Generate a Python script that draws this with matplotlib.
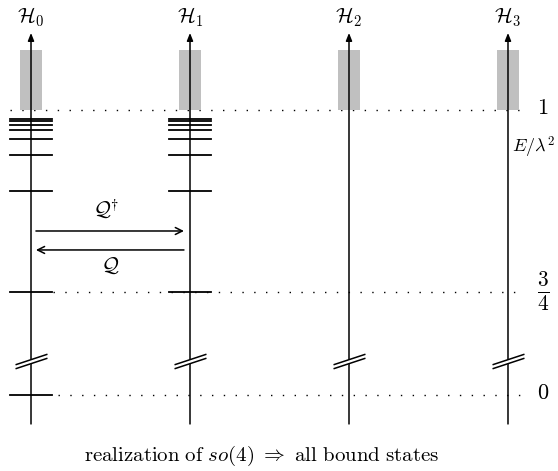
import numpy as np
import matplotlib
matplotlib.use("Agg")
import matplotlib.pyplot as plt
from matplotlib.patches import Rectangle
from matplotlib.path import Path

plt.rcParams['mathtext.fontset'] = 'cm'
plt.rcParams['font.family'] = ['Liberation Serif', 'DejaVu Serif']

# ---- data ----
spaces = [r'$\mathcal{H}_0$', r'$\mathcal{H}_1$', r'$\mathcal{H}_2$', r'$\mathcal{H}_3$']
# bound-state energies E/lambda^2 in each space
levels_H0 = [0.0, 0.75, 0.889, 0.9375, 0.96, 0.972, 0.9796, 0.9844, 0.9877]
levels_H1 = [0.75, 0.889, 0.9375, 0.96, 0.972, 0.9796, 0.9844, 0.9877]
levels = [levels_H0, levels_H1, [], []]
continuum = [1.0, 1.083]          # continuum band start / shown top
ref_lines = [1.0, 0.75, 0.0]       # dotted reference energies
ref_labels = ['$1$', r'$\frac{3}{4}$', '$0$']
axis_top = 1.106
axis_bottom_scaled = 0.568
E_break = 0.655                    # axis break location
Qdag_E = 0.8335                    # Q^dagger arrow energy
Q_E = 0.8074                       # Q arrow energy

k = (E_break - 0.6083) / E_break

def fwd(E):
    E = np.asarray(E, dtype=float)
    return np.where(E >= E_break, E, E_break - (E_break - E) * k)

def inv(s):
    s = np.asarray(s, dtype=float)
    return np.where(s >= E_break, s, E_break - (E_break - s) / k)

fig = plt.figure(figsize=(5.58, 4.71), dpi=100)
ax = fig.add_axes([0, 0, 1, 1])
ax.set_yscale('function', functions=(fwd, inv))
ax.set_xlim(-0.195, 3.3145)
ax.set_ylim(float(inv(0.5033)), 1.1513)
ax.axis('off')

xs = np.arange(len(spaces))
bottom = float(inv(axis_bottom_scaled))

# dotted reference lines
dot = (0, (1, 7.5))
ax.plot([-0.13, 3.08], [1.0, 1.0], color='black', lw=1.0, ls=dot, zorder=1)
ax.plot([0.14, 3.08], [0.75, 0.75], color='black', lw=1.0, ls=dot, zorder=1)
ax.plot([0.17, 3.08], [0.0, 0.0], color='black', lw=1.0, ls=dot, zorder=1)

for i, x in enumerate(xs):
    # continuum
    ax.add_patch(Rectangle((x - 0.069, continuum[0]), 0.138, continuum[1] - continuum[0],
                           facecolor='#c0c0c0', edgecolor='none', zorder=2))
    # axis with arrow
    ax.annotate('', xy=(x, axis_top), xytext=(x, bottom),
                arrowprops=dict(arrowstyle='-|>,head_length=0.45,head_width=0.18',
                                color='black', lw=1.1, shrinkA=0, shrinkB=0), zorder=4)
    # levels
    for E in levels[i]:
        ax.plot([x - 0.132, x + 0.132], [E, E], color='black', lw=1.3, zorder=3)
    # label
    ax.text(x, 1.128, spaces[i], ha='center', va='center', fontsize=15)

# axis breaks
brk = Path([(-1.0, -0.33), (1.0, 0.33)], [Path.MOVETO, Path.LINETO])
d = 0.0025
ax.plot(xs, [float(inv(fwd(E_break)))] * len(xs), ls='none', marker=brk, markersize=23,
        markeredgecolor='white', markeredgewidth=3.2, zorder=5)
for off in (-d, d):
    ax.plot(xs, [float(inv(fwd(E_break) + off))] * len(xs), ls='none', marker=brk,
            markersize=23, markeredgecolor='black', markeredgewidth=1.1, zorder=6)

# Q arrows
ax.annotate('', xy=(0.962, Qdag_E), xytext=(0.031, Qdag_E),
            arrowprops=dict(arrowstyle='->,head_length=0.5,head_width=0.25',
                            color='black', lw=1.1, shrinkA=0, shrinkB=0))
ax.annotate('', xy=(0.031, Q_E), xytext=(0.962, Q_E),
            arrowprops=dict(arrowstyle='->,head_length=0.5,head_width=0.25',
                            color='black', lw=1.1, shrinkA=0, shrinkB=0))
ax.text(0.472, 0.8624, r'$\mathcal{Q}^{\dagger}$', ha='center', va='center', fontsize=15)
ax.text(0.497, 0.7844, r'$\mathcal{Q}$', ha='center', va='center', fontsize=15)

# right labels
for E, lab in zip(ref_lines, ref_labels):
    ax.text(3.22, E, lab, ha='center', va='center', fontsize=16 if lab != ref_labels[1] else 22)
ax.text(3.157, 0.949, r'$E/\lambda^2$', ha='center', va='center', fontsize=13)

fig.text(262 / 558, 1 - 461 / 471,
         r'$\mathrm{realization\ of}\ so(4)\ \Rightarrow\ \mathrm{all\ bound\ states}$',
         ha='center', va='baseline', fontsize=15)

fig.savefig('out.png', dpi=100)
